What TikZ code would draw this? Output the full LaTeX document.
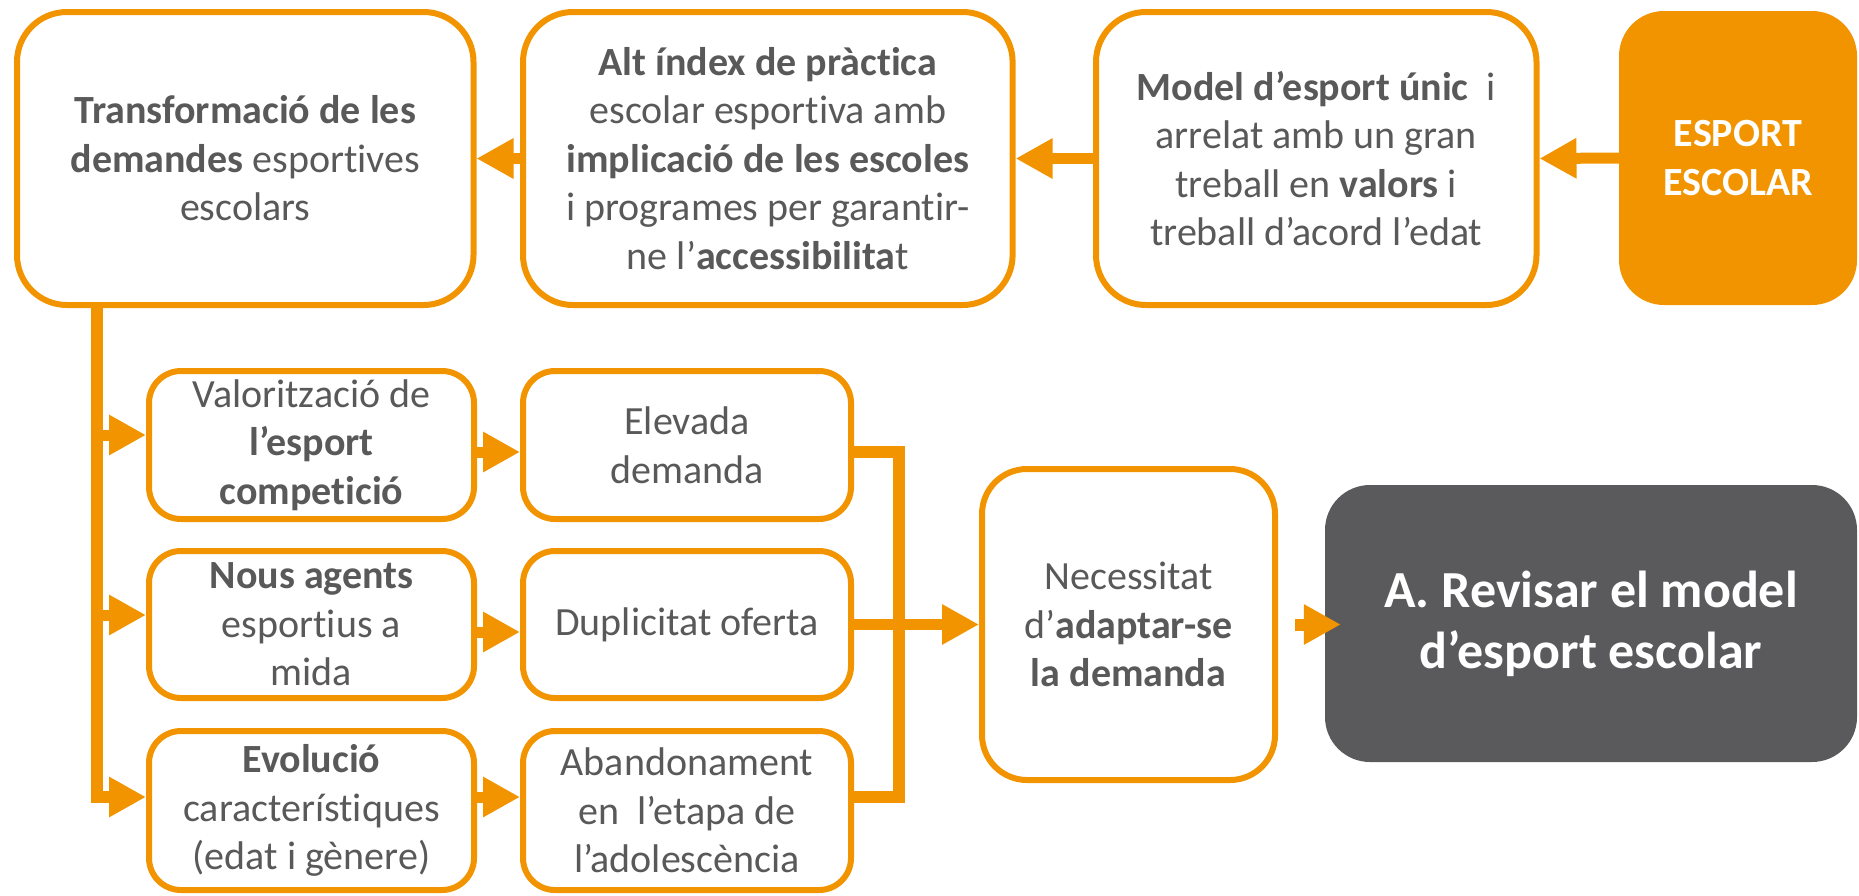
\documentclass[tikz,border=0pt]{standalone}
\usepackage{fontspec}
\setmainfont[Ligatures=NoCommon]{Carlito}
\usetikzlibrary{arrows.meta,calc}
\definecolor{org}{HTML}{F29400}
\definecolor{txt}{HTML}{595959}
\definecolor{dk}{HTML}{5A5A5C}
\begin{document}
\begin{tikzpicture}[x=1pt,y=-1pt,
  box/.style={draw=org, line width=6pt, fill=white, rounded corners=#1, inner sep=0pt,
    align=center, text=txt, font=\fontsize{40}{48.5}\selectfont},
  box/.default=50pt,
  solidbox/.style={fill=#1, draw=none, rounded corners=45pt, inner sep=0pt,
    align=center, text=white, font=\bfseries\fontsize{40}{48.5}\selectfont},
  conn/.style={draw=org, line width=11pt},
  arr/.style={draw=org, line width=11pt, -{Triangle[length=37pt,width=38pt]}}]
\useasboundingbox (0,0) rectangle (1859,895);

% top row
\node[box, minimum width=456.5pt, minimum height=293pt] (tr) at (245.25,158.5)
  {\textbf{Transformació de les}\\\textbf{demandes} esportives\\escolars};
\node[box, minimum width=489.6pt, minimum height=293pt] (alt) at (767.8,158.5)
  {\textbf{Alt índex de pràctica}\\escolar esportiva amb\\\textbf{implicació de les escoles}\\i programes per garantir-\\ne l’\textbf{accessibilita}t};
\node[box, minimum width=440.5pt, minimum height=293pt] (mod) at (1316.25,158.5)
  {\textbf{Model d’esport únic}\ \ i\\arrelat amb un gran\\treball en \textbf{valors} i\\treball d’acord l’edat};
\node[solidbox=org, minimum width=238pt, minimum height=294pt] (esp) at (1738,158)
  {ESPORT\\ESCOLAR};

% left column
\node[box=32pt, minimum width=325pt, minimum height=148pt] (A1) at (311.5,445)
  {Valorització de\\\textbf{l’esport}\\\textbf{competició}};
\node[box=32pt, minimum width=325pt, minimum height=147pt] (A2) at (311.5,624.5)
  {\textbf{Nous agents}\\esportius a\\mida};
\node[box=32pt, minimum width=325pt, minimum height=159pt] (A3) at (311.5,810.5)
  {\textbf{Evolució}\\característiques\\(edat i gènere)};

% second column
\node[box=32pt, minimum width=328pt, minimum height=148pt] (B1) at (687,445)
  {Elevada\\demanda};
\node[box=32pt, minimum width=328pt, minimum height=147pt] (B2) at (687,624.5)
  {Duplicitat oferta};
\node[box=32pt, minimum width=328pt, minimum height=159pt] (B3) at (687,810.5)
  {Abandonament\\en\ \ l’etapa de\\l’adolescència};

% right part
\node[box=45pt, minimum width=293pt, minimum height=311pt] (nec) at (1128.5,624.5)
  {Necessitat\\d’\textbf{adaptar-se}\\\textbf{la demanda}};
\node[solidbox=dk, minimum width=532pt, minimum height=277pt,
  font=\bfseries\fontsize{52}{61}\selectfont] (dark) at (1591,623.5)
  {A. Revisar el model\\d’esport escolar};

% top arrows
\draw[arr] (alt.west) -- (tr.east);
\draw[arr] (mod.west) -- (alt.east);
\draw[arr] (esp.west) -- (mod.east);

% trunk and branches
\coordinate (r1) at (97,435);
\coordinate (r2) at (97,615);
\coordinate (r3) at (97,797);
\draw[arr, line width=12pt] (tr.south -| r1) -- (r3) -- (r3 -| A3.west);
\draw[arr] (r1) -- (r1 -| A1.west);
\draw[arr] (r2) -- (r2 -| A2.west);

% A -> B
\coordinate (m1) at (0,452);
\coordinate (m2) at (0,632);
\coordinate (m3) at (0,797);
\draw[arr] (m1 -| A1.east) -- (m1 -| B1.west);
\draw[arr] (m2 -| A2.east) -- (m2 -| B2.west);
\draw[arr] (m3 -| A3.east) -- (m3 -| B3.west);

% bracket
\coordinate (k1) at (899,452);
\coordinate (k3) at (899,797);
\draw[conn, line width=12pt] (k1 -| B1.east) -- (k1) -- (k3) -- (k3 -| B3.east);
\draw[arr] (B2.east) -- (nec.west);

% to final box
\draw[arr, line width=12pt] ($(nec.east)+(17,0)$) -- ($(nec.east -| dark.west)+(16,0)$);
\end{tikzpicture}
\end{document}
